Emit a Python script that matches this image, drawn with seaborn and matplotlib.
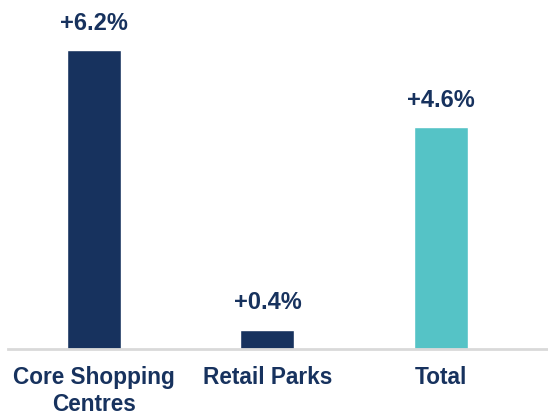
import matplotlib
matplotlib.use("Agg")
import matplotlib.pyplot as plt
import seaborn as sns
import pandas as pd

categories = ["Core Shopping\nCentres", "Retail Parks", "Total"]
growth = [6.2, 0.4, 4.6]
value_labels = ["+6.2%", "+0.4%", "+4.6%"]
bar_colors = ["#17325E", "#17325E", "#55C3C6"]

navy = "#17325E"

sns.set_theme(style="white")
plt.rcParams["font.family"] = ["Liberation Sans", "DejaVu Sans"]

df = pd.DataFrame({"category": categories, "growth": growth})

fig = plt.figure(figsize=(5.48, 4.16), dpi=100)
ax = fig.add_axes([0.0146, 0.161, 0.985, 0.839])

sns.barplot(data=df, x="category", y="growth", hue="category",
            palette=bar_colors, width=0.311, legend=False, ax=ax,
            saturation=1)

for i, (v, lab) in enumerate(zip(growth, value_labels)):
    ax.annotate(lab, xy=(i, v), xytext=(0, 11), textcoords="offset points",
                ha="center", va="bottom", fontsize=17, fontweight="bold",
                color=navy)

ax.set_xlim(-0.496, 2.617)
ax.set_ylim(0, 7.24)
ax.set_xlabel("")
ax.set_ylabel("")
ax.set_yticks([])
ax.tick_params(axis="x", length=0, pad=12)
for t in ax.get_xticklabels():
    t.set_fontsize(16.3)
    t.set_fontweight("bold")
    t.set_color(navy)
    t.set_linespacing(1.22)

for s in ["top", "right", "left"]:
    ax.spines[s].set_visible(False)
ax.spines["bottom"].set_color("#D9D9D9")
ax.spines["bottom"].set_linewidth(2)

fig.savefig("out.png", dpi=100)
